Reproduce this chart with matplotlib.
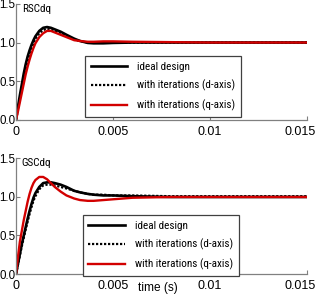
import matplotlib
matplotlib.use("Agg")
import matplotlib.pyplot as plt
from matplotlib import font_manager
from matplotlib.transforms import ScaledTranslation

# time grid (s) shared by all curves
t = [0, 0.0001, 0.0002, 0.0003, 0.0004, 0.0005, 0.0006, 0.0007, 0.0008, 0.0009,
     0.001, 0.0012, 0.0014, 0.0016, 0.0018, 0.002, 0.0023, 0.0026, 0.003, 0.0033,
     0.0037, 0.004, 0.0045, 0.005, 0.006, 0.008, 0.01, 0.015]

# RSC dq
rsc_ideal = [0, 0.17, 0.32, 0.46, 0.60, 0.72, 0.82, 0.90, 0.97, 1.03,
             1.08, 1.15, 1.19, 1.20, 1.19, 1.17, 1.14, 1.10, 1.05, 1.02,
             0.995, 0.99, 0.99, 0.995, 1.0, 1.0, 1.0, 1.0]
rsc_d = [0, 0.14, 0.28, 0.41, 0.54, 0.66, 0.76, 0.85, 0.92, 0.99,
         1.05, 1.12, 1.16, 1.18, 1.17, 1.15, 1.12, 1.09, 1.04, 1.02,
         1.0, 1.0, 1.0, 1.0, 1.0, 1.0, 1.0, 1.0]
rsc_q = [0, 0.11, 0.23, 0.35, 0.47, 0.59, 0.69, 0.78, 0.86, 0.93,
         0.99, 1.07, 1.12, 1.15, 1.15, 1.13, 1.10, 1.07, 1.03, 1.02,
         1.01, 1.01, 1.015, 1.015, 1.01, 1.005, 1.0, 1.0]

# GSC dq
gsc_ideal = [0, 0.13, 0.26, 0.39, 0.50, 0.61, 0.72, 0.82, 0.91, 0.99,
             1.05, 1.13, 1.18, 1.19, 1.19, 1.18, 1.16, 1.13, 1.08, 1.06,
             1.04, 1.03, 1.02, 1.02, 1.01, 1.0, 1.0, 1.0]
gsc_d = [0, 0.12, 0.24, 0.36, 0.47, 0.58, 0.68, 0.78, 0.87, 0.95,
         1.01, 1.10, 1.15, 1.16, 1.16, 1.15, 1.13, 1.11, 1.08, 1.06,
         1.04, 1.03, 1.03, 1.02, 1.02, 1.01, 1.01, 1.01]
gsc_q = [0, 0.22, 0.42, 0.56, 0.70, 0.82, 0.94, 1.04, 1.12, 1.18,
         1.22, 1.26, 1.26, 1.23, 1.18, 1.13, 1.07, 1.02, 0.98, 0.96,
         0.95, 0.95, 0.96, 0.97, 0.99, 1.0, 1.0, 1.0]

labels = ["ideal design", "with iterations (d-axis)", "with iterations (q-axis)"]
xticks = [0, 0.005, 0.01, 0.015]
xticklabels = ["0", "0.005", "0.01", "0.015"]
yticks = [0, 0.5, 1.0, 1.5]
yticklabels = ["0.0", "0.5", "1.0", "1.5"]

# pick a narrow font for legend / panel names if one is installed
narrow = None
stretch = "normal"
leg_size = 8
names = set(f.name for f in font_manager.fontManager.ttflist)
for cand in ["Liberation Sans Narrow", "Roboto Condensed", "Open Sans Condensed"]:
    if cand in names:
        narrow = cand
        break
if narrow is None:
    for f in font_manager.fontManager.ttflist:
        if f.name == "DejaVu Sans" and "condensed" in str(f.stretch):
            narrow = "DejaVu Sans"
            stretch = "condensed"
            leg_size = 7
            break
if narrow is None:
    narrow = "Liberation Sans"
    leg_size = 7.2

plt.rcParams["font.family"] = ["Liberation Sans", "DejaVu Sans"]

fig = plt.figure(figsize=(3.17, 2.94), dpi=100)
ax1 = fig.add_axes([0.0505, 0.592, 0.918, 0.395])
ax2 = fig.add_axes([0.0505, 0.068, 0.918, 0.393])

panels = [(ax1, "RSCdq", rsc_ideal, rsc_d, rsc_q, 0.237, 0.55),
          (ax2, "GSCdq", gsc_ideal, gsc_d, gsc_q, 0.230, 0.51)]

for ax, name, ideal, dax, qax, lx, ly in panels:
    ax.plot(t, ideal, color="black", lw=1.9, label=labels[0])
    ax.plot(t, dax, color="black", lw=1.6, ls=(0, (1, 0.8)), label=labels[1])
    ax.plot(t, qax, color="#d20000", lw=1.7, label=labels[2])
    ax.set_xlim(0, 0.015)
    ax.set_ylim(0, 1.5)
    ax.set_xticks(xticks)
    ax.set_xticklabels(xticklabels)
    ax.set_yticks(yticks)
    ax.set_yticklabels(yticklabels)
    for s in ["top", "right"]:
        ax.spines[s].set_visible(False)
    for s in ["left", "bottom"]:
        ax.spines[s].set_color("#808080")
        ax.spines[s].set_linewidth(0.9)
    ax.tick_params(axis="both", direction="in", length=3, width=0.8,
                   color="#808080")
    ax.tick_params(axis="x", pad=4, labelsize=9)
    ax.tick_params(axis="y", pad=0.4, labelsize=8.3)
    # last x label squeezed into the figure
    last = ax.get_xticklabels()[-1]
    last.set_transform(last.get_transform() +
                       ScaledTranslation(-7 / 100, 0, fig.dpi_scale_trans))
    ax.text(0.02, 1.0, name, transform=ax.transAxes, ha="left", va="top",
            fontsize=8, family=narrow, fontstretch=stretch)
    leg = ax.legend(loc="upper left", bbox_to_anchor=(lx, ly), borderaxespad=0,
                    fancybox=False, framealpha=1, edgecolor="#404040",
                    prop={"family": narrow, "size": leg_size, "stretch": stretch},
                    handlelength=3.3, handletextpad=0.9, borderpad=0.5,
                    labelspacing=0.75)
    leg.get_frame().set_linewidth(0.9)

ax2.text(0.488, -0.07, "time (s)", transform=ax2.transAxes, ha="center",
         va="top", fontsize=8.6)

fig.savefig("out.png", dpi=100)
